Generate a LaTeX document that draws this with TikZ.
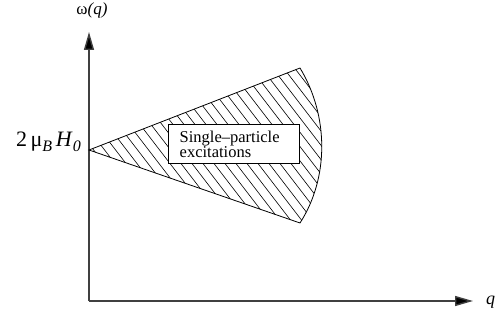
\documentclass[tikz,border=0pt]{standalone}
\usepackage{fontspec}
\setmainfont{Liberation Serif}
\usetikzlibrary{arrows.meta}
\tikzset{
  axis/.style={line width=1.4pt, draw=black!75, -{Triangle[length=18pt,width=10pt,fill=black]}},
  edge/.style={line width=0.8pt, draw=black},
  hatch/.style={line width=0.6pt, draw=black},
  lbl/.style={inner sep=0pt}
}
\begin{document}
\begin{tikzpicture}[x=1pt,y=-1pt]
\useasboundingbox (0,0) rectangle (497,320);
% axes
\coordinate (O) at (89,301);
\coordinate (Ytip) at (89,32);
\coordinate (Xtip) at (473,301);
\draw[axis] (O) -- (Ytip);
\draw[axis] (O) -- (Xtip);
\node[lbl, font=\fontsize{17}{17}\selectfont] (wq) at (92,10) {ω\textit{(q)}};
\node[lbl, anchor=west, font=\fontsize{18}{18}\selectfont] (qlab) at (486,302) {\textit{q}};
% wedge
\coordinate (A) at (89,150);
\coordinate (U) at (300,68);
\coordinate (L) at (300,223);
\begin{scope}
  \clip (A) -- (U) .. controls (329,116) and (329,178) .. (L) -- cycle;
  \foreach \a in {-200,-189,...,340} \draw[hatch] (\a,40) -- ++(160,208);
\end{scope}
\draw[edge] (A) -- (U) .. controls (329,116) and (329,178) .. (L) -- cycle;
% label box
\node[draw=black, line width=1pt, fill=white, minimum width=131pt, minimum height=39pt, inner sep=0pt] (box) at (233.5,144.5) {};
\node[lbl, anchor=base west, align=left, font=\fontsize{16.5}{14}\selectfont] (txt) at (179.5,158) {Single–particle\\excitations};
% left label
\node[lbl, anchor=base east, font=\fontsize{22}{22}\selectfont] (h0) at (81,147)
  {2\,μ\raisebox{-0.45ex}{\fontsize{16}{16}\selectfont\itshape B}\,\textit{H}\raisebox{-0.45ex}{\fontsize{16}{16}\selectfont\itshape 0}};
\end{tikzpicture}
\end{document}
